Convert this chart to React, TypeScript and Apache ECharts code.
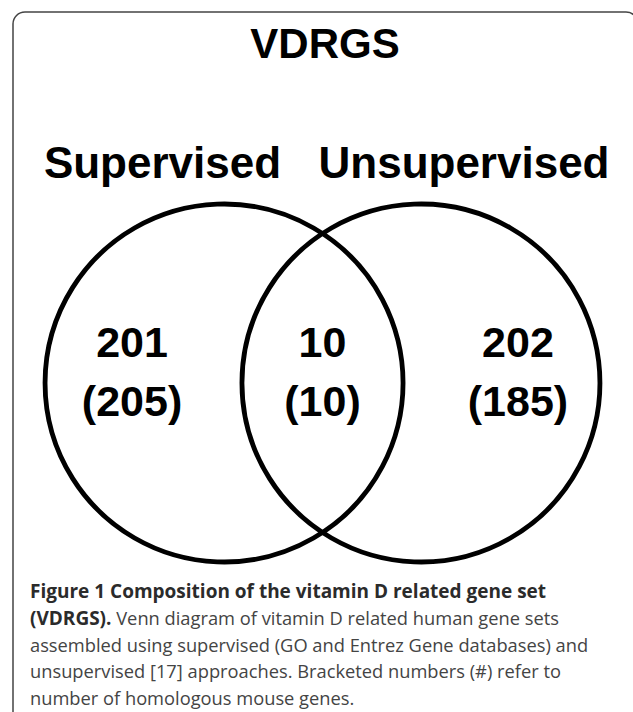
import React, { useEffect, useRef } from 'react';
import * as echarts from 'echarts';

// ---- data ----
const titleText = 'VDRGS';
const setNames = ['Supervised', 'Unsupervised'];
const regionNames = ['Supervised only', 'Both', 'Unsupervised only'];
const humanGenes = [201, 10, 202];
const mouseGenes = [205, 10, 185];

const captionBoldLine = 'Figure 1 Composition of the vitamin D related gene set';
const captionBoldLead = '(VDRGS).';
const captionLines = [
  ' Venn diagram of vitamin D related human gene sets',
  'assembled using supervised (GO and Entrez Gene databases) and',
  'unsupervised [17] approaches. Bracketed numbers (#) refer to',
  'number of homologous mouse genes.',
];

// ---- layout (Venn geometry in circle-radius units) ----
const circleCenters = [-0.55, 0.55];
const regionX = [-1.064, 0, 1.092];
const regionY = 0.064;

export default function App() {
  const ref = useRef<HTMLDivElement>(null);
  useEffect(() => {
    if (!ref.current) return;
    const chart = echarts.init(ref.current, null, { renderer: 'svg' });
    const capFont = '"Open Sans", sans-serif';
    const capSize = 18.3;
    const capBoldSize = 19;
    const lineGap = 26.5;
    const firstLineY = 591;
    const headFont = '"Liberation Sans", Arial, sans-serif';
    const graphics: any[] = [
      {
        type: 'rect',
        shape: { x: 13, y: 12, width: 625, height: 780, r: 12 },
        style: { fill: 'none', stroke: '#444', lineWidth: 1.5 },
        silent: true,
      },
      {
        type: 'text',
        x: 325,
        y: 43,
        style: {
          text: titleText,
          fontFamily: headFont,
          fontWeight: 'bold',
          fontSize: 42,
          fill: '#000',
          align: 'center',
          verticalAlign: 'middle',
        },
      },
      {
        type: 'text',
        x: 162.5,
        y: 162,
        style: {
          text: setNames[0],
          fontFamily: headFont,
          fontWeight: 'bold',
          fontSize: 44,
          fill: '#000',
          align: 'center',
          verticalAlign: 'middle',
        },
      },
      {
        type: 'text',
        x: 464,
        y: 162,
        style: {
          text: setNames[1],
          fontFamily: headFont,
          fontWeight: 'bold',
          fontSize: 44,
          fill: '#000',
          align: 'center',
          verticalAlign: 'middle',
        },
      },
      {
        type: 'text',
        x: 30,
        y: firstLineY,
        style: {
          text: captionBoldLine,
          fontFamily: capFont,
          fontWeight: 'bold',
          fontSize: capBoldSize,
          fill: '#2b2b2b',
          align: 'left',
          verticalAlign: 'middle',
        },
      },
      {
        type: 'text',
        x: 30,
        y: firstLineY + lineGap,
        style: {
          text: '{b|' + captionBoldLead + '}{r|' + captionLines[0] + '}',
          fontFamily: capFont,
          fontSize: capSize,
          align: 'left',
          verticalAlign: 'middle',
          rich: {
            b: { fontFamily: capFont, fontWeight: 'bold', fontSize: capBoldSize, fill: '#2b2b2b' },
            r: { fontFamily: capFont, fontWeight: 'normal', fontSize: capSize, fill: '#444' },
          },
        },
      },
    ];
    captionLines.slice(1).forEach((t, i) => {
      graphics.push({
        type: 'text',
        x: 30,
        y: firstLineY + lineGap * (i + 2),
        style: {
          text: t,
          fontFamily: capFont,
          fontSize: capSize,
          fill: '#444',
          align: 'left',
          verticalAlign: 'middle',
        },
      });
    });

    chart.setOption({
      animation: false,
      backgroundColor: '#fff',
      grid: { left: 54, width: 537, top: 114.5, height: 537 },
      xAxis: { type: 'value', min: -1.5, max: 1.5, show: false },
      yAxis: { type: 'value', min: -1.5, max: 1.5, show: false },
      graphic: graphics,
      series: [
        {
          type: 'custom',
          name: 'sets',
          silent: true,
          data: circleCenters.map((c, i) => ({ name: setNames[i], value: [c, 0, 1] })),
          renderItem: (params: any, api: any) => {
            const p = api.coord([api.value(0), api.value(1)]);
            const r = api.size([api.value(2), 0])[0];
            return {
              type: 'circle',
              shape: { cx: p[0], cy: p[1], r },
              style: { fill: 'none', stroke: '#000', lineWidth: 4.8 },
            };
          },
        },
        {
          type: 'custom',
          name: 'counts',
          silent: true,
          data: regionX.map((x, i) => ({
            name: regionNames[i],
            value: [x, regionY, humanGenes[i], mouseGenes[i]],
          })),
          renderItem: (params: any, api: any) => {
            const p = api.coord([api.value(0), api.value(1)]);
            return {
              type: 'text',
              x: p[0],
              y: p[1],
              style: {
                text: api.value(2) + '\n(' + api.value(3) + ')',
                fontFamily: headFont,
                fontWeight: 'bold',
                fontSize: 43,
                lineHeight: 59,
                fill: '#000',
                align: 'center',
                verticalAlign: 'middle',
              },
            };
          },
        },
      ],
    });
    return () => chart.dispose();
  }, []);
  return (
    <div
      ref={ref}
      style={{ position: 'fixed', left: 0, top: 0, width: 633, height: 712, background: '#fff' }}
    />
  );
}
